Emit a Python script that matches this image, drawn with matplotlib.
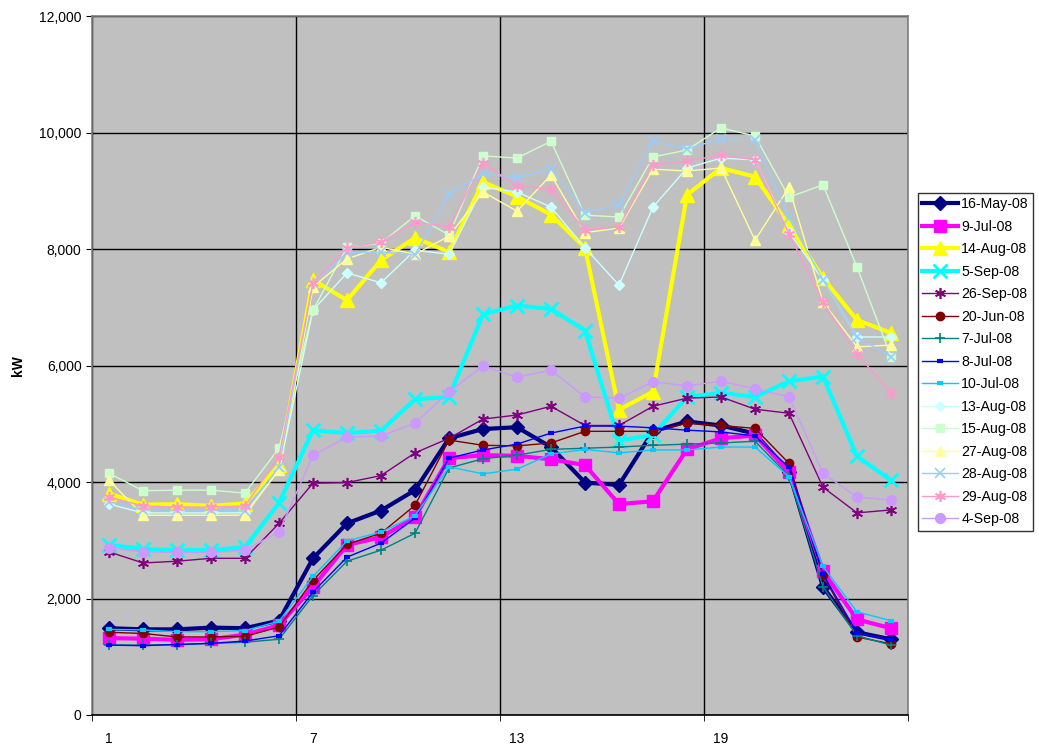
import numpy as np
import matplotlib
matplotlib.use("Agg")
import matplotlib.pyplot as plt
from matplotlib.ticker import FuncFormatter, FixedLocator

plt.rcParams['font.family'] = ['Liberation Sans', 'DejaVu Sans']

# hour of day (Excel category axis)
hours = list(range(1, 25))

# daily load profiles, kW
may16 = [1490, 1470, 1470, 1500, 1490, 1620, 2690, 3290, 3510, 3860, 4750, 4910,
         4940, 4600, 3990, 3950, 4870, 5040, 4970, 4830, 4170, 2200, 1420, 1300]
jul09 = [1320, 1310, 1290, 1300, 1380, 1540, 2200, 2920, 3050, 3400, 4410, 4460,
         4450, 4390, 4290, 3620, 3670, 4560, 4750, 4800, 4170, 2470, 1640, 1490]
aug14 = [3800, 3610, 3620, 3590, 3630, 4290, 7470, 7120, 7810, 8190, 7950, 9150,
         8900, 8590, 8020, 5240, 5550, 8930, 9390, 9240, 8410, 7500, 6780, 6560]
sep05 = [2920, 2850, 2830, 2830, 2880, 3640, 4890, 4840, 4880, 5420, 5460, 6880,
         7030, 6970, 6600, 4710, 4810, 5460, 5530, 5460, 5730, 5810, 4440, 4030]
sep26 = [2800, 2610, 2640, 2690, 2690, 3290, 3980, 3990, 4110, 4500, 4750, 5080,
         5150, 5300, 4970, 4970, 5300, 5440, 5460, 5250, 5180, 3910, 3470, 3520]
jun20 = [1420, 1400, 1340, 1340, 1350, 1510, 2310, 2930, 3120, 3600, 4720, 4630,
         4620, 4670, 4870, 4870, 4870, 5010, 4970, 4920, 4320, 2400, 1340, 1220]
jul07 = [1200, 1200, 1210, 1230, 1250, 1300, 2050, 2640, 2830, 3120, 4240, 4400,
         4460, 4560, 4580, 4600, 4630, 4650, 4670, 4700, 4100, 2200, 1360, 1200]
jul08 = [1200, 1190, 1210, 1230, 1270, 1360, 2110, 2710, 2950, 3380, 4410, 4550,
         4650, 4840, 4960, 4960, 4930, 4890, 4860, 4790, 4250, 2420, 1410, 1290]
jul10 = [1470, 1460, 1430, 1430, 1450, 1610, 2380, 2990, 3140, 3420, 4260, 4140,
         4220, 4480, 4560, 4500, 4550, 4550, 4600, 4600, 4090, 2550, 1770, 1620]
aug13 = [3620, 3470, 3470, 3470, 3470, 4200, 6950, 7590, 7420, 7980, 7910, 9060,
         8980, 8720, 8020, 7380, 8720, 9390, 9560, 9530, 8290, 7470, 6490, 6490]
aug15 = [4150, 3850, 3860, 3860, 3810, 4580, 6950, 8030, 8100, 8570, 8240, 9600,
         9560, 9850, 8580, 8550, 9580, 9700, 10080, 9940, 8890, 9100, 7690, 6150]
aug27 = [4030, 3430, 3430, 3430, 3430, 4210, 7350, 7830, 8030, 7910, 8220, 8980,
         8650, 9270, 8280, 8360, 9370, 9340, 9390, 8150, 9060, 7090, 6320, 6350]
aug28 = [3660, 3520, 3520, 3520, 3500, 4260, 7420, 7930, 7950, 7900, 8940, 9290,
         9220, 9370, 8620, 8760, 9850, 9720, 9890, 9870, 8530, 7470, 6490, 6150]
aug29 = [3740, 3590, 3570, 3570, 3590, 4430, 7420, 8020, 8120, 8460, 8380, 9480,
         9080, 9030, 8330, 8380, 9440, 9510, 9610, 9530, 8260, 7090, 6200, 5530]
sep04 = [2870, 2800, 2790, 2790, 2830, 3140, 4460, 4770, 4790, 5010, 5550, 5990,
         5800, 5920, 5460, 5440, 5720, 5650, 5730, 5600, 5460, 4150, 3740, 3690]

labels = ["16-May-08", "9-Jul-08", "14-Aug-08", "5-Sep-08", "26-Sep-08", "20-Jun-08",
          "7-Jul-08", "8-Jul-08", "10-Jul-08", "13-Aug-08", "15-Aug-08", "27-Aug-08",
          "28-Aug-08", "29-Aug-08", "4-Sep-08"]
series = [may16, jul09, aug14, sep05, sep26, jun20, jul07, jul08, jul10,
          aug13, aug15, aug27, aug28, aug29, sep04]

star = (6, 2, 0)  # Excel style asterisk

# colour, marker, line width, marker size, marker edge width
styles = [
    ("#000080", "D", 3.0, 7, 1),
    ("#FF00FF", "s", 3.0, 9, 1),
    ("#FFFF00", "^", 3.0, 10, 1),
    ("#00FFFF", "x", 3.0, 10, 2),
    ("#800080", star, 1.0, 8, 1.2),
    ("#800000", "o", 1.0, 6, 1),
    ("#008080", "+", 1.0, 7, 1.2),
    ("#0000FF", "_", 1.0, 5, 3),
    ("#00CCFF", "_", 1.0, 5, 3),
    ("#CCFFFF", "D", 1.0, 5, 1),
    ("#CCFFCC", "s", 1.0, 6, 1),
    ("#FFFF99", "^", 1.0, 7, 1),
    ("#99CCFF", "x", 1.0, 7, 1.2),
    ("#FF99CC", star, 1.0, 8, 1.2),
    ("#CC99FF", "o", 1.0, 7, 1),
]

fig = plt.figure(figsize=(10.39, 7.46), dpi=100)
ax = fig.add_axes([92 / 1039, 31 / 746, 816 / 1039, 699 / 746])
ax.set_facecolor("#C0C0C0")

for i, (vals, lab, st) in enumerate(zip(series, labels, styles)):
    col, mk, lw, ms, mew = st
    ax.plot(hours, vals, color=col, marker=mk, lw=lw, ms=ms, mew=mew,
            mec=col, mfc=col, label=lab, zorder=3 + i)

ax.set_xlim(0.5, 24.5)
ax.set_ylim(0, 12000)
ax.set_yticks(np.arange(0, 12001, 2000))
ax.yaxis.set_major_formatter(FuncFormatter(lambda v, p: f"{int(v):,}"))
ax.set_xticks([1, 7, 13, 19])
ax.xaxis.set_minor_locator(FixedLocator([0.5, 6.5, 12.5, 18.5, 24.5]))
ax.tick_params(axis="x", which="major", length=0, labelsize=10, pad=12)
ax.tick_params(axis="x", which="minor", length=4, color="black")
ax.tick_params(axis="y", length=4, labelsize=10, color="black")

ax.grid(axis="y", color="black", lw=1.0, zorder=1)
ax.grid(axis="x", which="minor", color="black", lw=1.0, zorder=1)
ax.set_axisbelow(True)
for s in ax.spines.values():
    s.set_color("#808080")
    s.set_linewidth(1.2)
ax.spines["bottom"].set_color("black")

ax.set_ylabel("kW", fontsize=10, fontweight="bold", labelpad=10)

leg = fig.legend(loc="upper left", bbox_to_anchor=(918 / 1039, 1 - 193 / 746),
                 fontsize=10.2, frameon=True, fancybox=False, edgecolor="black",
                 borderaxespad=0, handlelength=2.5, labelspacing=0.6,
                 handletextpad=0.25, borderpad=0.3)
leg.get_frame().set_linewidth(1.0)

fig.savefig("out.png", dpi=100, facecolor="white")
